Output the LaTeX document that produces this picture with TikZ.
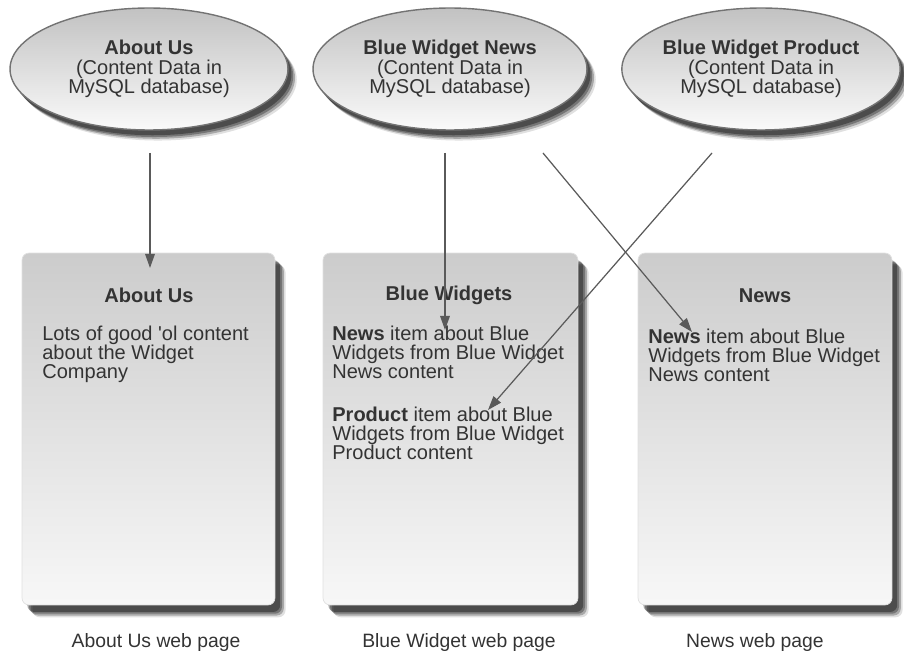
\documentclass[tikz,border=0pt]{standalone}
\usepackage{fontspec}
\setmainfont{Liberation Sans}
\usetikzlibrary{arrows.meta,shapes.geometric,shadows}

\definecolor{inkgray}{HTML}{333333}
\definecolor{linegray}{HTML}{5A5A5A}

\tikzset{
  soft shadow/.style={
    general shadow={shadow xshift=#1+1pt, shadow yshift=-#1-2pt, fill=black, opacity=0.12},
    general shadow={shadow xshift=#1, shadow yshift=-#1-1pt, fill=black, opacity=0.25},
    general shadow={shadow xshift=#1-1pt, shadow yshift=-#1, fill=black, opacity=0.3},
    general shadow={shadow xshift=#1-2pt, shadow yshift=-#1+1pt, fill=black, opacity=0.35}},
  db/.style={ellipse, draw=black!55, line width=0.8pt, inner sep=0pt,
    top color=black!24, bottom color=black!2, text=inkgray, align=center,
    font=\fontsize{11.4}{11}\selectfont, soft shadow=4pt},
  page/.style={rectangle, rounded corners=4pt, draw=black!12, inner sep=0pt,
    top color=black!20, bottom color=black!3, soft shadow=5pt},
  title/.style={text=inkgray, font=\fontsize{11.4}{11}\selectfont\bfseries},
  body/.style={anchor=north west, inner sep=0pt, text=inkgray, align=left,
    font=\fontsize{11.4}{10.8}\selectfont},
  caption/.style={text=inkgray, font=\fontsize{11}{11}\selectfont},
  link/.style={draw=linegray, line width=0.7pt, -{Triangle[length=8pt,width=5.5pt]}}
}

\begin{document}
\begin{tikzpicture}[x=0.02cm, y={(0cm,-0.02cm)}]
\def \ydb     {69}
\def \yout    {153}
\def \ypage   {429}
\def \ytitle  {295}
\def \ylabel  {643}

\useasboundingbox (0,0) rectangle (904,655);

% databases
\node [db, minimum width=5.56cm, minimum height=2.44cm] (dbAbout) at (149, \ydb)
  {\textbf{About Us}\\(Content Data in\\MySQL database)};
\node [db, minimum width=5.48cm, minimum height=2.44cm] (dbNews) at (450, \ydb)
  {\textbf{Blue Widget News}\\(Content Data in\\MySQL database)};
\node [db, minimum width=5.36cm, minimum height=2.44cm] (dbProduct) at (761, \ydb)
  {\textbf{Blue Widget Product}\\(Content Data in\\MySQL database)};

% web pages
\node [page, minimum width=5.06cm, minimum height=7.04cm] (pgAbout) at (148.5, \ypage) {};
\node [page, minimum width=5.10cm, minimum height=7.04cm] (pgBlue)  at (450.5, \ypage) {};
\node [page, minimum width=5.08cm, minimum height=7.04cm] (pgNews)  at (765, \ypage) {};

% page contents
\node [title] (ttAbout) at (149, \ytitle) {About Us};
\node [title] (ttBlue)  at (449, \ytitle) {Blue Widgets};
\node [title] (ttNews)  at (765, 296)     {News};

\node [body] (txAbout) at (42, 326)
  {Lots of good \textquotesingle ol content\\about the Widget\\Company};
\node [body] (txBlueNews) at (332, 326)
  {\textbf{News} item about Blue\\Widgets from Blue Widget\\News content};
\node [body] (txBlueProduct) at (332, 407)
  {\textbf{Product} item about Blue\\Widgets from Blue Widget\\Product content};
\node [body] (txNews) at (648, 329)
  {\textbf{News} item about Blue\\Widgets from Blue Widget\\News content};

% captions
\node [caption] (lblAbout) at (156, \ylabel) {About Us web page};
\node [caption] (lblBlue)  at (459, \ylabel) {Blue Widget web page};
\node [caption] (lblNews)  at (755, \ylabel) {News web page};

% feeds
\coordinate (outAbout)     at (150, \yout);
\coordinate (outNewsA)     at (445, \yout);
\coordinate (outNewsB)     at (543, \yout);
\coordinate (outProduct)   at (712, \yout);
\coordinate (inAbout)      at (150, 268);
\coordinate (inBlueNews)   at (445, 330);
\coordinate (inNews)       at (692, 332);
\coordinate (inBlueProduct) at (488, 410);

\draw [link] (outAbout) -- (inAbout);
\draw [link] (outNewsA) -- (inBlueNews);
\draw [link] (outNewsB) -- (inNews);
\draw [link] (outProduct) -- (inBlueProduct);

\end{tikzpicture}
\end{document}
